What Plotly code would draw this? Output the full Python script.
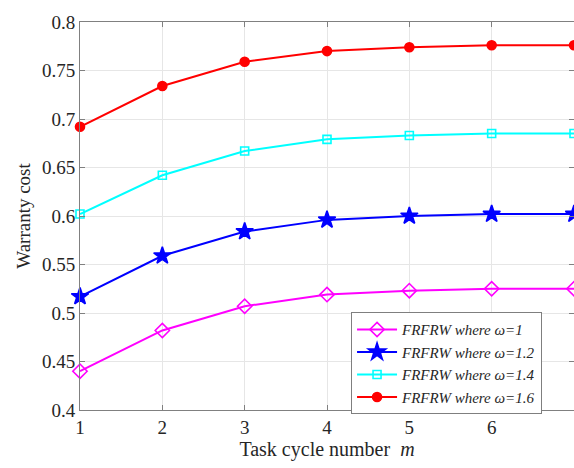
import plotly.graph_objects as go

m = [1, 2, 3, 4, 5, 6, 7]
w10 = [0.440, 0.482, 0.507, 0.519, 0.523, 0.525, 0.525]
w12 = [0.517, 0.559, 0.584, 0.596, 0.600, 0.602, 0.602]
w14 = [0.602, 0.642, 0.667, 0.679, 0.683, 0.685, 0.685]
w16 = [0.692, 0.734, 0.759, 0.770, 0.774, 0.776, 0.776]

names = ["<i>FRFRW where ω=1</i>", "<i>FRFRW where ω=1.2</i>",
         "<i>FRFRW where ω=1.4</i>", "<i>FRFRW where ω=1.6</i>"]
colors = ["#ff00ff", "#0000ff", "#00ffff", "#ff0000"]
symbols = ["diamond-open", "star", "square-open", "circle"]
sizes = [11, 13, 8, 9]
series = [w10, w12, w14, w16]

fig = go.Figure()
for y, n, c, s, sz in zip(series, names, colors, symbols, sizes):
    fig.add_trace(go.Scatter(
        x=m, y=y, name=n, mode="lines+markers",
        line=dict(color=c, width=2),
        marker=dict(symbol=s, size=sz, color=c, line=dict(color=c, width=1.6)),
        cliponaxis=False,
    ))

font = "Liberation Serif"
tickfont = dict(family=font, size=19, color="#262626")
fig.update_layout(
    width=574, height=468,
    margin=dict(l=80, r=0, t=22, b=58),
    paper_bgcolor="white", plot_bgcolor="white",
    font=dict(family=font, size=19, color="#262626"),
    showlegend=True,
    legend=dict(
        x=0.742, y=0.252, xanchor="center", yanchor="top",
        bgcolor="white", bordercolor="#7f7f7f", borderwidth=1,
        font=dict(family=font, size=15, color="#262626"),
        tracegroupgap=0, itemwidth=40,
    ),
    xaxis=dict(
        range=[1, 7], tickvals=m, ticktext=[str(v) for v in m],
        tickfont=tickfont,
        showgrid=True, gridcolor="#e6e6e6", gridwidth=1,
        showline=True, linecolor="#808080", linewidth=1, mirror="ticks",
        ticks="inside", ticklen=5, tickcolor="#808080",
        zeroline=False,
        title=dict(text="Task cycle number  <i>m</i>", font=dict(family=font, size=20), standoff=4),
    ),
    yaxis=dict(
        range=[0.4, 0.8], dtick=0.05, tickformat="~g",
        tickfont=tickfont,
        showgrid=True, gridcolor="#e6e6e6", gridwidth=1,
        showline=True, linecolor="#808080", linewidth=1, mirror="ticks",
        ticks="inside", ticklen=5, tickcolor="#808080",
        zeroline=False,
        title=dict(text="Warranty cost", font=dict(family=font, size=19), standoff=6),
    ),
)

fig.write_html("out.html")
